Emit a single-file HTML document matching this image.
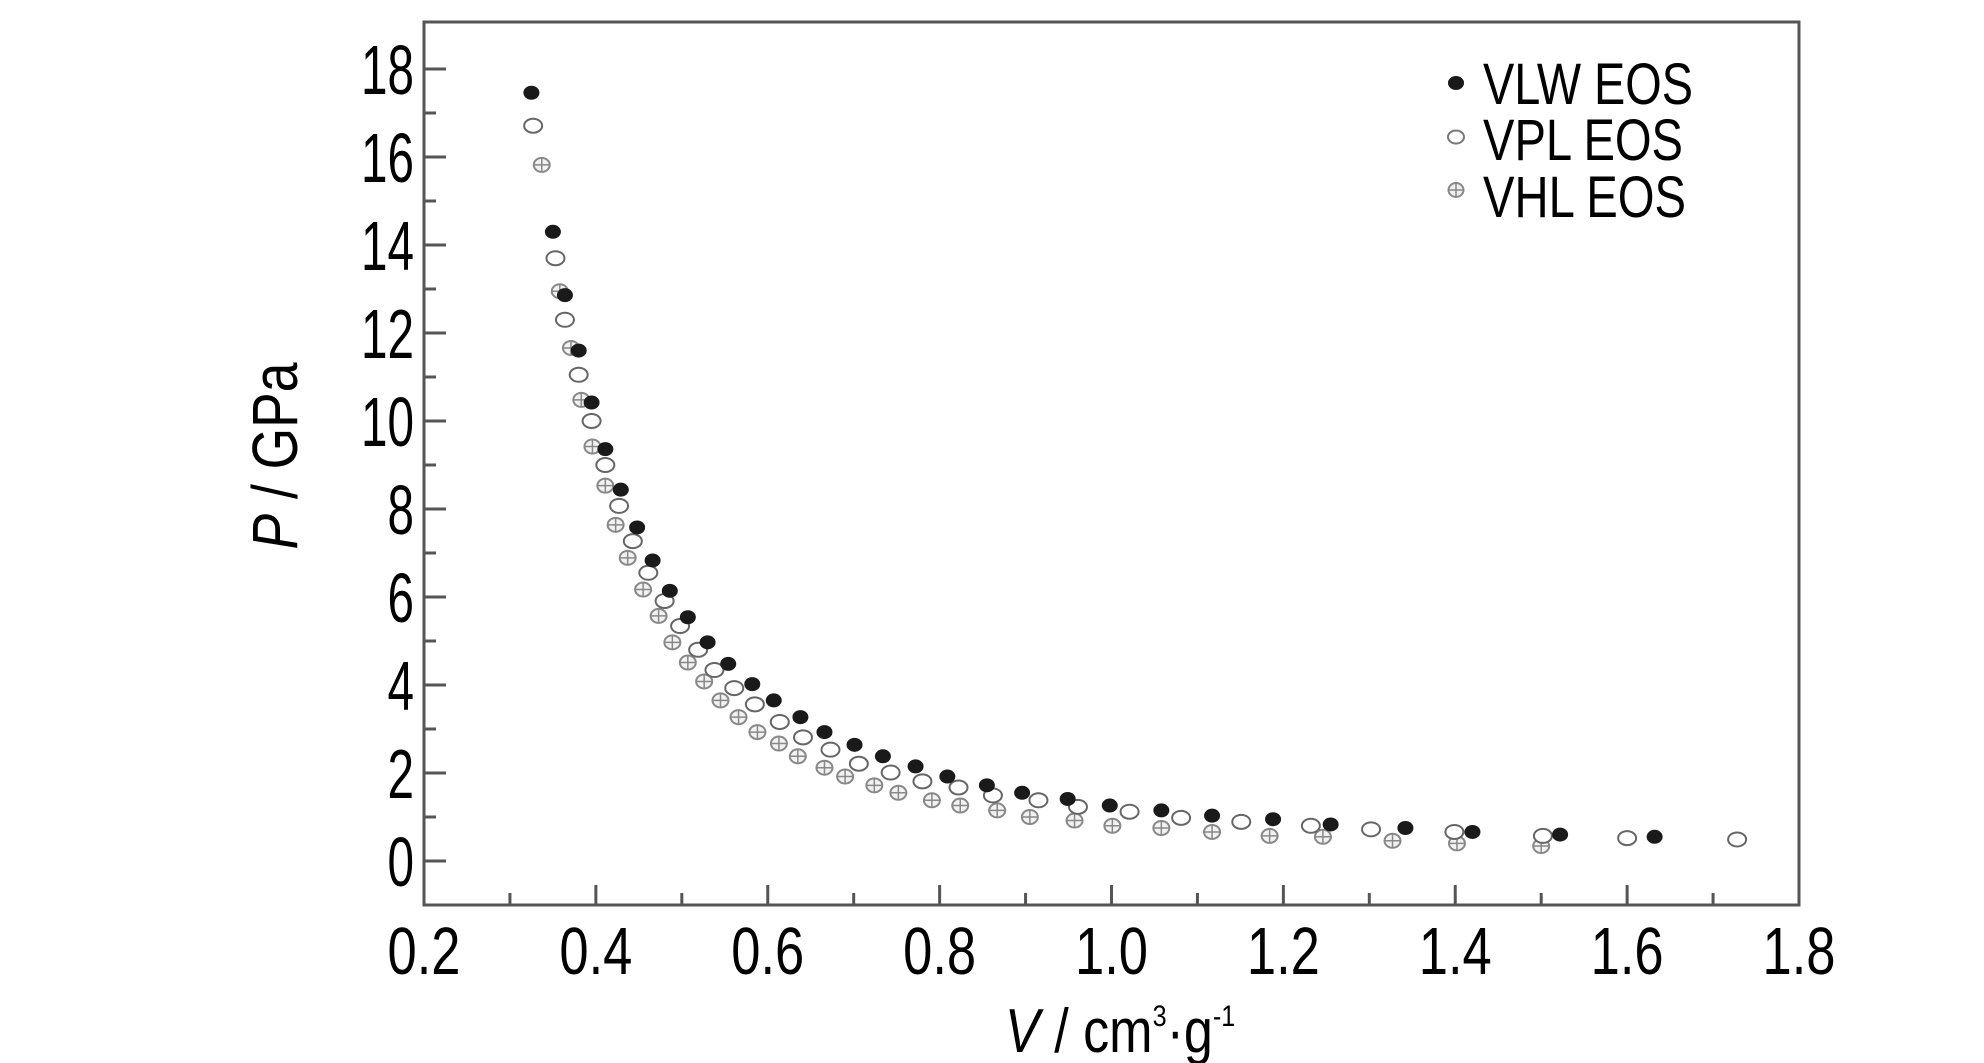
<!DOCTYPE html>
<html><head><meta charset="utf-8"><style>
html,body{margin:0;padding:0;background:#fff;}
svg{display:block;font-family:"Liberation Sans",Arial,sans-serif;}
</style></head><body>
<svg id="chart" width="1984" height="1063" viewBox="0 0 1984 1063" xmlns="http://www.w3.org/2000/svg">
<rect x="0" y="0" width="1984" height="1063" fill="#fff"/>
<g id="axes"></g>
<g id="marks"></g>
<text transform="translate(297,456) rotate(-90)" text-anchor="middle" font-size="64" textLength="187" lengthAdjust="spacingAndGlyphs"><tspan font-style="italic">P</tspan> / GPa</text>
<text transform="translate(1005,1052) scale(0.84,1)" x="0" y="0" font-size="62"><tspan font-style="italic">V</tspan> / cm<tspan font-size="30" dy="-26">3</tspan><tspan dy="26">·g</tspan><tspan font-size="30" dy="-26">-1</tspan></text>
<g>
  <ellipse cx="1456" cy="83" rx="8" ry="7" fill="#1a1a1a"/>
  <text x="1483" y="104" font-size="58" textLength="210" lengthAdjust="spacingAndGlyphs">VLW EOS</text>
  <ellipse cx="1456" cy="137" rx="8" ry="6.5" fill="#fff" stroke="#777" stroke-width="2"/>
  <text x="1483" y="160" font-size="58" textLength="200" lengthAdjust="spacingAndGlyphs">VPL EOS</text>
  <g>
    <ellipse cx="1456" cy="190" rx="7.5" ry="7" fill="#eee" stroke="#888" stroke-width="2"/>
    <line x1="1448.5" y1="190" x2="1463.5" y2="190" stroke="#888" stroke-width="1.5"/>
    <line x1="1456" y1="183" x2="1456" y2="197" stroke="#888" stroke-width="1.5"/>
  </g>
  <text x="1483" y="217" font-size="58" textLength="203" lengthAdjust="spacingAndGlyphs">VHL EOS</text>
</g>
</svg>
<script>
const xTicks = [0.2,0.4,0.6,0.8,1.0,1.2,1.4,1.6,1.8];
const xTickLabels = ["0.2","0.4","0.6","0.8","1.0","1.2","1.4","1.6","1.8"];
const yTicks = [0,2,4,6,8,10,12,14,16,18];
const yTickLabels = ["0","2","4","6","8","10","12","14","16","18"];
const vlwV = [0.325,0.35,0.364,0.38,0.395,0.411,0.429,0.448,0.466,0.486,0.507,0.53,0.554,0.582,0.607,0.638,0.666,0.701,0.734,0.772,0.809,0.855,0.896,0.949,0.998,1.058,1.117,1.188,1.255,1.342,1.42,1.522,1.632];
const vlwP = [17.46,14.3,12.86,11.6,10.42,9.36,8.44,7.58,6.83,6.14,5.54,4.97,4.48,4.02,3.65,3.27,2.93,2.64,2.38,2.15,1.92,1.72,1.55,1.41,1.26,1.15,1.03,0.95,0.83,0.75,0.66,0.6,0.55];
const vplV = [0.327,0.353,0.364,0.38,0.395,0.411,0.427,0.443,0.461,0.48,0.498,0.519,0.538,0.561,0.585,0.614,0.641,0.673,0.706,0.743,0.78,0.822,0.862,0.915,0.961,1.021,1.081,1.151,1.232,1.302,1.399,1.502,1.6,1.728];
const vplP = [16.71,13.7,12.3,11.05,10.0,9.0,8.07,7.27,6.55,5.91,5.34,4.8,4.34,3.93,3.56,3.16,2.81,2.53,2.21,2.01,1.81,1.67,1.49,1.38,1.23,1.12,0.98,0.89,0.8,0.72,0.66,0.57,0.52,0.49];
const vhlV = [0.337,0.358,0.371,0.383,0.396,0.411,0.423,0.437,0.455,0.473,0.489,0.507,0.526,0.545,0.566,0.588,0.613,0.635,0.666,0.69,0.724,0.752,0.791,0.824,0.867,0.905,0.957,1.001,1.058,1.117,1.184,1.246,1.327,1.402,1.5];
const vhlP = [15.82,12.95,11.66,10.48,9.42,8.53,7.64,6.89,6.17,5.57,4.97,4.51,4.08,3.65,3.27,2.93,2.67,2.38,2.12,1.92,1.72,1.55,1.38,1.26,1.15,1.0,0.92,0.8,0.75,0.66,0.57,0.55,0.46,0.4,0.34];

const NS="http://www.w3.org/2000/svg";
const X0=424, X1=1799, Y_TOP=22, Y_BOT=905;
function xs(v){return X0+(v-0.2)/(1.6)*(X1-X0);}
function ys(p){return 861-44*p;}
function mk(tag,attrs,parent){const e=document.createElementNS(NS,tag);for(const k in attrs)e.setAttribute(k,attrs[k]);parent.appendChild(e);return e;}
const axes=document.getElementById('axes'), marks=document.getElementById('marks');

const frame=mk('rect',{x:X0,y:Y_TOP,width:X1-X0,height:Y_BOT-Y_TOP,fill:'none',stroke:'#555','stroke-width':3},axes);



for(let i=0;i<xTicks.length;i++){
  const x=xs(xTicks[i]);
  if(i>0&&i<xTicks.length-1){
    const t=mk('line',{x1:x,y1:Y_BOT,x2:x,y2:Y_BOT-20,stroke:'#555','stroke-width':3},axes);
    
    
  }
  if(i<xTicks.length-1){
    const xm=xs(xTicks[i]+0.1);
    const m=mk('line',{x1:xm,y1:Y_BOT,x2:xm,y2:Y_BOT-12,stroke:'#555','stroke-width':3},axes);
    
    
  }
  const l=mk('text',{x:x,y:974,'font-size':67,'text-anchor':'middle',textLength:73,lengthAdjust:'spacingAndGlyphs'},axes);
  l.textContent=xTickLabels[i];
  
  
}
for(let i=0;i<yTicks.length;i++){
  const y=ys(yTicks[i]);
  const t=mk('line',{x1:X0,y1:y,x2:X0+22,y2:y,stroke:'#555','stroke-width':3},axes);
  
  
  if(i<yTicks.length-1){
    const ym=ys(yTicks[i]+1);
    const m=mk('line',{x1:X0,y1:ym,x2:X0+12,y2:ym,stroke:'#555','stroke-width':3},axes);
    
    
  }
  const lab=yTickLabels[i];
  const l=mk('text',{x:414,y:y+25,'font-size':70,'text-anchor':'end',textLength:lab.length*26.5,lengthAdjust:'spacingAndGlyphs'},axes);
  l.textContent=lab;
  
  
}

for(let i=0;i<vhlV.length;i++){
  const cx=xs(vhlV[i]), cy=ys(vhlP[i]);
  const g=mk('g',{},marks);
  
  
  mk('ellipse',{cx:cx,cy:cy,rx:8,ry:7,fill:'#f2f2f2',stroke:'#888','stroke-width':2},g);
  mk('line',{x1:cx-8,y1:cy,x2:cx+8,y2:cy,stroke:'#888','stroke-width':1.5},g);
  mk('line',{x1:cx,y1:cy-7,x2:cx,y2:cy+7,stroke:'#888','stroke-width':1.5},g);
}
for(let i=0;i<vplV.length;i++){
  const e=mk('ellipse',{cx:xs(vplV[i]),cy:ys(vplP[i]),rx:9,ry:7,fill:'#fff',stroke:'#666','stroke-width':2},marks);
  
  
}
for(let i=0;i<vlwV.length;i++){
  const e=mk('ellipse',{cx:xs(vlwV[i]),cy:ys(vlwP[i]),rx:8,ry:7,fill:'#1a1a1a'},marks);
  
  
}
</script>
</body></html>
